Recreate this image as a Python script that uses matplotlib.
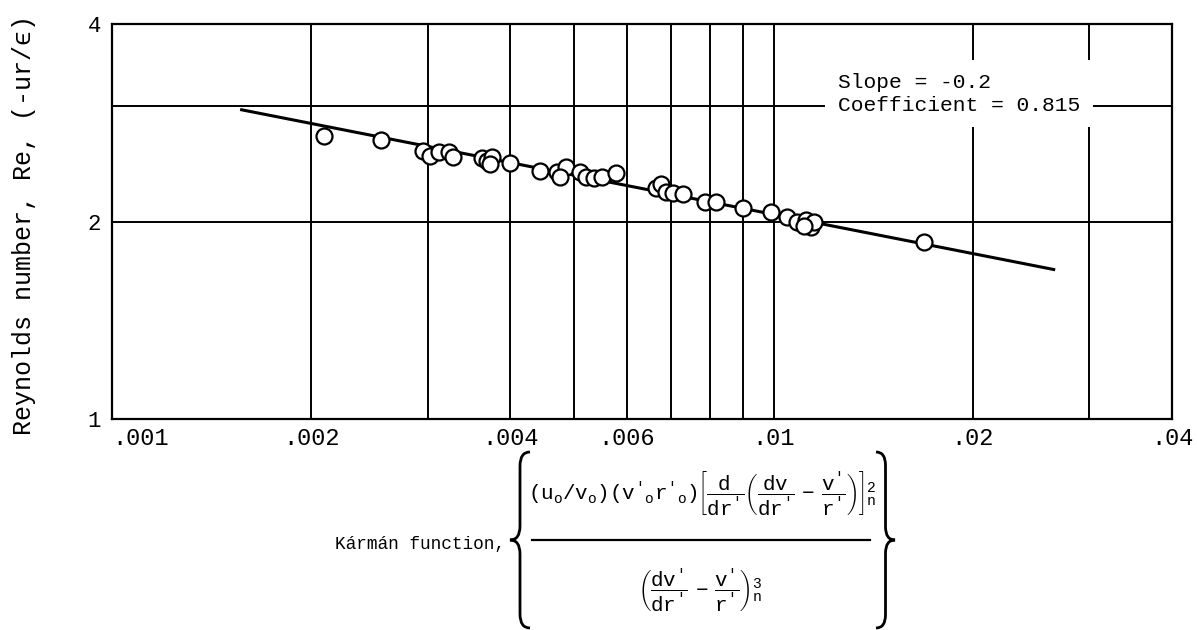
import matplotlib
matplotlib.use("Agg")
import matplotlib.pyplot as plt
from matplotlib.path import Path
from matplotlib.patches import PathPatch

# values (log-log axes)
karman = [0.00209, 0.00255, 0.00295, 0.00302, 0.00312, 0.00323, 0.00328,
          0.00363, 0.00369, 0.00375, 0.00373, 0.00399, 0.00444, 0.00471,
          0.00485, 0.00476, 0.00509, 0.00520, 0.00536, 0.00551, 0.00577,
          0.00664, 0.00676, 0.00688, 0.00705, 0.00730, 0.00788, 0.00819,
          0.00900, 0.00990, 0.01047, 0.01084, 0.01118, 0.01138, 0.01150,
          0.01110, 0.01690]
reynolds = [2.70, 2.66, 2.56, 2.52, 2.55, 2.55, 2.51,
            2.50, 2.47, 2.51, 2.45, 2.46, 2.39, 2.38,
            2.42, 2.34, 2.38, 2.34, 2.33, 2.34, 2.37,
            2.25, 2.28, 2.22, 2.21, 2.20, 2.14, 2.14,
            2.10, 2.07, 2.03, 2.00, 2.01, 1.96, 2.00,
            1.97, 1.86]

# fitted line, Re = 0.815 * K^-0.2
fit_x = [0.00157, 0.0265]
fit_y = [2.96, 1.69]

x_ticks = [0.001, 0.002, 0.004, 0.006, 0.01, 0.02, 0.04]
x_labels = [".001", ".002", ".004", ".006", ".01", ".02", ".04"]
x_grid = [0.002, 0.003, 0.004, 0.005, 0.006, 0.007, 0.008, 0.009, 0.01, 0.02, 0.03]
y_ticks = [1, 2, 4]
y_labels = ["1", "2", "4"]
y_grid = [2, 3]

W, H = 1197, 630

MONO = ["Liberation Mono", "DejaVu Sans Mono"]
plt.rcParams["font.family"] = MONO
plt.rcParams["mathtext.fontset"] = "custom"
plt.rcParams["mathtext.rm"] = "Liberation Mono"
plt.rcParams["mathtext.it"] = "Liberation Mono"
plt.rcParams["mathtext.bf"] = "Liberation Mono"


def fx(px):
    return px / W


def fy(py):
    return 1 - py / H


def brace(fig, x_tip, x_back, y_top, y_bot):
    # curly brace drawn in figure pixels (y measured from the top)
    xm = (x_tip + x_back) / 2
    mid = (y_top + y_bot) / 2
    d = abs(x_back - x_tip) * 0.7
    pts = [(x_back, y_top), (xm, y_top), (xm, y_top + d), (xm, mid - d),
           (xm, mid), (x_tip, mid), (xm, mid), (xm, mid + d),
           (xm, y_bot - d), (xm, y_bot), (x_back, y_bot)]
    codes = [Path.MOVETO, Path.CURVE3, Path.CURVE3, Path.LINETO,
             Path.CURVE3, Path.CURVE3, Path.CURVE3, Path.CURVE3,
             Path.LINETO, Path.CURVE3, Path.CURVE3]
    verts = [(fx(a), fy(b)) for a, b in pts]
    fig.add_artist(PathPatch(Path(verts, codes), fill=False, lw=2.0,
                             color="black", transform=fig.transFigure))


def main():
    fig = plt.figure(figsize=(W / 100, H / 100), dpi=100)
    ax = fig.add_axes([fx(112), fy(419), fx(1172) - fx(112), fy(24) - fy(419)])

    ax.set_xscale("log")
    ax.set_yscale("log")
    ax.set_xlim(0.001, 0.04)
    ax.set_ylim(1, 4)

    ax.set_xticks(x_ticks)
    ax.set_xticklabels(x_labels)
    ax.set_xticks(x_grid, minor=True)
    ax.set_yticks(y_ticks)
    ax.set_yticklabels(y_labels)
    ax.set_yticks(y_grid, minor=True)
    ax.xaxis.set_minor_formatter(plt.NullFormatter())
    ax.yaxis.set_minor_formatter(plt.NullFormatter())
    ax.tick_params(which="both", length=0)
    ax.tick_params(axis="x", labelsize=17, pad=6)
    ax.tick_params(axis="y", labelsize=16, pad=8)
    # first x label sits to the right of the corner, as in the original
    ax.get_xticklabels()[0].set_horizontalalignment("left")

    ax.grid(True, which="both", color="black", linewidth=1.4)
    for s in ax.spines.values():
        s.set_linewidth(1.6)

    ax.plot(fit_x, fit_y, color="black", linewidth=2.2, zorder=3)
    ax.plot(karman, reynolds, linestyle="none", marker="o", markersize=11.5,
            markerfacecolor="white", markeredgecolor="black",
            markeredgewidth=1.6, zorder=4)

    ax.text(0.0125, 3.13, "Slope = -0.2\nCoefficient = 0.815", fontsize=15.3,
            va="center", ha="left", linespacing=1.25, zorder=5,
            bbox=dict(facecolor="white", edgecolor="none", pad=9))

    ax.set_ylabel("Reynolds number, Re, (-ur/\u03f5)", fontsize=18)
    ax.yaxis.set_label_coords(-0.072, 0.49)

    # Karman function label, assembled from pieces
    fig.text(fx(505), fy(545), "K\u00e1rm\u00e1n function,", fontsize=12.8,
             ha="right", va="center")
    num = (r"$(u_o/v_o)(v'_o r'_o)\left[\dfrac{d}{dr'}"
           r"\left(\dfrac{dv}{dr'}\ -\ \dfrac{v'}{r'}\right)\right]_n^2$")
    den = r"$\left(\dfrac{dv'}{dr'}\ -\ \dfrac{v'}{r'}\right)_n^3$"
    fig.text(fx(702), fy(493), num, fontsize=15, ha="center", va="center")
    fig.text(fx(700), fy(590), den, fontsize=15, ha="center", va="center")
    fig.add_artist(plt.Line2D([fx(532), fx(870)], [fy(540), fy(540)],
                              color="black", lw=1.6, transform=fig.transFigure))
    brace(fig, 510, 530, 452, 628)
    brace(fig, 895, 876, 452, 628)

    fig.savefig("out.png", dpi=100)


if __name__ == "__main__":
    main()
